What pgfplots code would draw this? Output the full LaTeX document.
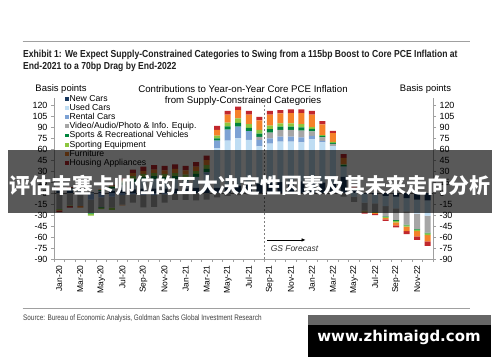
\documentclass[border=0pt]{standalone}
\usepackage{pgfplots}
\pgfplotsset{compat=1.18}
\usepackage{pgfplotstable}
\usetikzlibrary{arrows.meta}
\usepackage{fontspec}
\setmainfont{Liberation Sans}
\newfontfamily\narrow[FakeStretch=0.845]{Liberation Sans}
\newfontfamily\narrowsrc[FakeStretch=0.80]{Liberation Sans}
\newfontfamily\cjk{Noto Sans CJK SC}
\newfontfamily\dvs{DejaVu Sans}

\definecolor{cNew}{HTML}{17375E}
\definecolor{cUsed}{HTML}{BFDDF3}
\definecolor{cRent}{HTML}{7DA2D4}
\definecolor{cVid}{HTML}{A6A6A6}
\definecolor{cSpRec}{HTML}{00843D}
\definecolor{cSpEq}{HTML}{8CC63F}
\definecolor{cFurn}{HTML}{F5822A}
\definecolor{cHous}{HTML}{C1272D}
\definecolor{axgray}{HTML}{A0A0A0}

% positive contributions (bp)
\pgfplotstableread{
x new used rent vid sprec speq furn hous
0 3 2 1 0 1 0 0 1
1 3 2 1 0 1 0 0 1
2 2 1 0 0 1 0 0 1
3 1 0 0 0 0 0 0 0
4 2 1 0 0 1 0 1 0
5 3 3 0 0 2 1 1 1
6 4 7 0 0 3 2 2 2
7 5 10 0 0 4 4 4 5
8 6 12 0 0 4 4 4 6
9 6 13 0 0 4 4 5 6
10 6 12 0 0 4 4 5 6
11 6 13 0 0 4 4 6 6
12 6 11 0 0 4 4 6 6
13 7 15 0 0 4 4 6 6
14 7 18 3 0 5 5 7 6
15 7 54 10.4 0 3.2 3.6 7.8 5.4
16 9 62.5 15 0 4.5 5 11 5
17 10 64.6 16 0 5 6.2 11.4 4.6
18 11 61.5 12 0 4.5 5 13 5
19 12 51.5 9 4 4.5 5 13 5
20 14 53.5 7 8 4.5 5 15 5
21 15 55 7 9 4.5 4.5 13.5 4.5
22 16 54 7 9 4.5 4.5 14 5
23 16 53 7 9 4.5 4.5 15 5
24 16 57 5 6 3.5 2.5 17 5
25 14 55 2 5 2 1 14.7 4.3
26 13 51 0 3 1.5 1.2 12 3.2
27 22 14 0 0 2 1 9 5
28 5 0 0 0 0 0 2 2
29 0 0 0 0 0 0 0 0
30 0 0 0 0 0 0 0 0
31 0 0 0 0 0 0 0 0
32 0 0 0 0 0 0 0 0
33 0 0 0 0 0 0 0 0
34 0 0 0 0 0 0 0 0
35 0 0 0 0 0 0 0 0
}\pos

% negative contributions (bp)
\pgfplotstableread{
x new used rent vid sprec speq furn hous
0 0 0 0 -22 0 -1 -1 -2
1 0 0 0 -17 0 -1 0 -2
2 0 0 -2 -16 0 0 -2 0
3 0 -1 -8 -18 -1 -3 0 0
4 0 0 -6 -13 -1 -2 0 0
5 0 0 -5 -15 0 -3 0 0
6 0 0 -3 -13 0 0 -1 0
7 0 0 -2 -11 0 0 0 0
8 0 0 -3 -16.5 0 0 0 0
9 0 0 -3 -16 0 0 0 0
10 0 0 -2 -11 0 0 0 0
11 0 0 -1 -8.5 0 0 0 0
12 0 0 -1 -8.5 0 0 0 0
13 0 0 0 -10 0 0 0 0
14 0 0 0 -9 0 0 0 0
15 0 0 0 -6 0 0 0 0
16 0 0 0 -4 0 0 0 0
17 0 0 0 -3 0 0 0 0
18 0 0 0 -2 0 0 0 0
19 0 0 0 0 0 0 0 0
20 0 0 0 0 0 0 0 0
21 0 0 0 0 0 0 0 0
22 0 0 0 0 0 0 0 0
23 0 0 0 0 0 0 0 0
24 0 0 0 0 0 0 0 0
25 0 0 0 0 0 0 0 0
26 0 0 0 0 0 0 0 0
27 0 0 0 -5 0 0 0 0
28 0 -5 0 -7 0 0 0 0
29 -1 -12 0 -11 0 -1 -1.5 -1.5
30 -2 -12 0 -12 0 -1 -1.5 -1.5
31 -4 -14 0 -14 -0.5 -1.5 -2 -2
32 -5 -16 0 -16 -1 -2 -4 -3
33 -7 -18 0 -18 -1 -2 -6 -4
34 -9 -19 0 -21 -1 -2 -7 -5
35 -10 -21 0 -23 -1 -2.5 -8.5 -6
}\neg

\begin{document}
\begin{tikzpicture}
\useasboundingbox (0,0) rectangle (500bp,362bp);
\fill[white] (0,0) rectangle (500bp,362bp);

% header
\draw[axgray, line width=0.9bp] (22.7bp,320.7bp) -- (469.7bp,320.7bp);
\node[anchor=base west, inner sep=0pt, text=black!88] at (23bp,304.7bp) {\narrow\bfseries\fontsize{10.2}{12}\selectfont Exhibit 1: We Expect Supply-Constrained Categories to Swing from a 115bp Boost to Core PCE Inflation at};
\node[anchor=base west, inner sep=0pt, text=black!88] at (23bp,292.7bp) {\narrow\bfseries\fontsize{10.2}{12}\selectfont End-2021 to a 70bp Drag by End-2022};

% chart titles
\node[anchor=base, inner sep=0pt] at (243bp,269bp) {\fontsize{9.7}{10}\selectfont Contributions to Year-on-Year Core PCE Inflation};
\node[anchor=base, inner sep=0pt] at (243bp,258.5bp) {\fontsize{9.7}{10}\selectfont from Supply-Constrained Categories};
\node[anchor=base, inner sep=0pt] at (61bp,270bp) {\fontsize{9.5}{10}\selectfont Basis points};
\node[anchor=base, inner sep=0pt] at (425.5bp,270bp) {\fontsize{9.5}{10}\selectfont Basis points};

\begin{axis}[
  at={(54bp,103bp)}, anchor=south west,
  scale only axis, width=379bp, height=161.3bp,
  ybar stacked, bar width=6bp,
  xmin=-0.5, xmax=35.5, ymin=-90, ymax=130,
  axis x line*=bottom, axis y line*=left,
  axis line style={axgray, line width=0.8bp},
  ytick={-90,-75,...,120},
  yticklabels={-90,-75,-60,-45,-30,-15,0,15,30,45,60,75,90,105,120},
  y tick label style={font=\fontsize{9}{9}\selectfont},
  xtick={0,2,...,34},
  xticklabels={Jan-20,Mar-20,May-20,Jul-20,Sep-20,Nov-20,Jan-21,Mar-21,May-21,Jul-21,Sep-21,Nov-21,Jan-22,Mar-22,May-22,Jul-22,Sep-22,Nov-22},
  x tick label style={rotate=90, anchor=east, font=\fontsize{8.5}{9}\selectfont},
  minor xtick={-0.5,0.5,...,35.5},
  major x tick style={draw=none},
  tick style={axgray, line width=0.6bp},
  tick align=outside,
  major tick length=3bp, minor tick length=3bp,
  legend style={at={(0.029,1.023)}, anchor=north west, draw=none, fill=none,
    font=\fontsize{8.7}{9}\selectfont, inner sep=0pt, row sep=0pt,
    nodes={inner sep=0.6bp, text height=6.3bp, text depth=1.7bp}},
  legend cell align=left,
  legend image code/.code={\fill[#1] (0bp,-1.9bp) rectangle (3.8bp,1.9bp);},
]
\addplot[fill=cNew, draw=none] table[x=x, y=new] {\pos};
\addplot[fill=cUsed, draw=none] table[x=x, y=used] {\pos};
\addplot[fill=cRent, draw=none] table[x=x, y=rent] {\pos};
\addplot[fill=cVid, draw=none] table[x=x, y=vid] {\pos};
\addplot[fill=cSpRec, draw=none] table[x=x, y=sprec] {\pos};
\addplot[fill=cSpEq, draw=none] table[x=x, y=speq] {\pos};
\addplot[fill=cFurn, draw=none] table[x=x, y=furn] {\pos};
\addplot[fill=cHous, draw=none] table[x=x, y=hous] {\pos};
\legend{New Cars, Used Cars, Rental Cars, Video/Audio/Photo \& Info. Equip., Sports \& Recreational Vehicles, Sporting Equipment, Furniture, Housing Appliances}
\draw[gray, line width=0.6bp, dash pattern=on 2bp off 2bp] (axis cs:19.5,-90) -- (axis cs:19.5,130);
\end{axis}

\begin{axis}[
  at={(54bp,103bp)}, anchor=south west,
  scale only axis, width=379bp, height=161.3bp,
  ybar stacked, bar width=6bp,
  xmin=-0.5, xmax=35.5, ymin=-90, ymax=130,
  axis x line=none, axis y line*=right,
  axis line style={axgray, line width=0.8bp},
  ytick={-90,-75,...,120},
  yticklabels={-90,-75,-60,-45,-30,-15,0,15,30,45,60,75,90,105,120},
  y tick label style={font=\fontsize{9}{9}\selectfont},
  tick style={axgray, line width=0.6bp},
  tick align=outside, major tick length=3bp,
]
\addplot[fill=cNew, draw=none] table[x=x, y=new] {\neg};
\addplot[fill=cUsed, draw=none] table[x=x, y=used] {\neg};
\addplot[fill=cRent, draw=none] table[x=x, y=rent] {\neg};
\addplot[fill=cVid, draw=none] table[x=x, y=vid] {\neg};
\addplot[fill=cSpRec, draw=none] table[x=x, y=sprec] {\neg};
\addplot[fill=cSpEq, draw=none] table[x=x, y=speq] {\neg};
\addplot[fill=cFurn, draw=none] table[x=x, y=furn] {\neg};
\addplot[fill=cHous, draw=none] table[x=x, y=hous] {\neg};
\draw[black!60, line width=0.6bp] (axis cs:-0.5,0) -- (axis cs:35.5,0);
\draw[black, line width=0.7bp, -{Latex[length=4bp,width=3.5bp]}] (axis cs:19.76,-64) -- (axis cs:23.4,-64);
\node[anchor=west, inner sep=0pt, text=black!80] at (axis cs:20.07,-76.4) {\fontsize{8.5}{9}\selectfont\itshape GS Forecast};
\end{axis}

% footer
\draw[axgray, line width=0.9bp] (22.7bp,54bp) -- (469.7bp,54bp);
\node[anchor=base west, inner sep=0pt, text=black!75] at (23bp,41.3bp) {\narrowsrc\fontsize{8}{9}\selectfont Source: Bureau of Economic Analysis, Goldman Sachs Global Investment Research};

% overlay banner
\fill[black, fill opacity=0.65] (8bp,149bp) rectangle (492bp,212bp);
\node[text=white, inner sep=0pt] at (250bp,177bp) {\cjk\bfseries\fontsize{21}{22}\selectfont 评估丰塞卡帅位的五大决定性因素及其未来走向分析};

% watermark
\fill[black!60] (308bp,37bp) rectangle (491bp,47bp);
\fill[black] (308bp,5bp) rectangle (491bp,37bp);
\node[text=white, inner sep=0pt] at (399bp,25bp) {\dvs\bfseries\fontsize{15}{16}\selectfont www.zhimaigd.com};
\end{tikzpicture}
\end{document}
